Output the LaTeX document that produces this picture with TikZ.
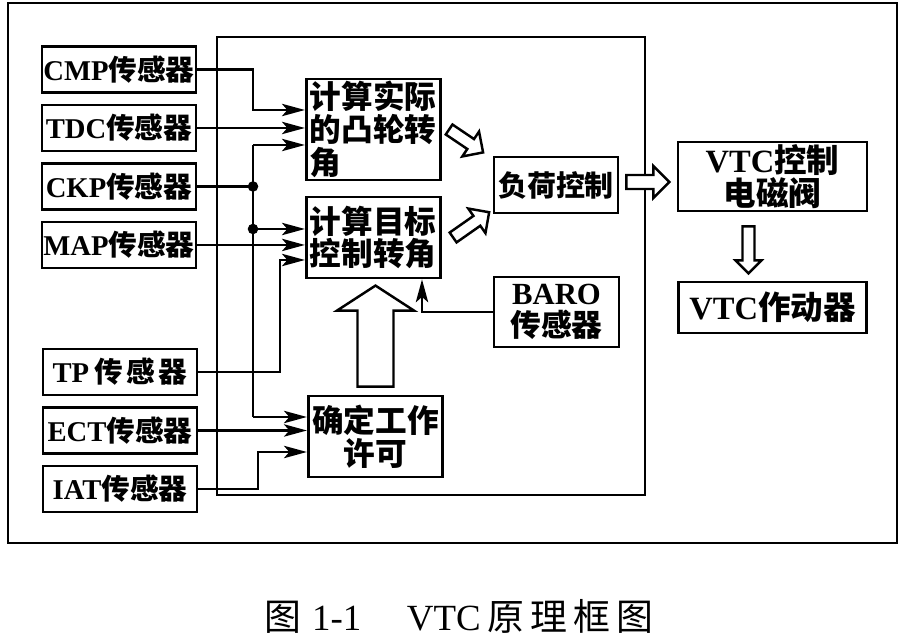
\documentclass[tikz,border=0pt]{standalone}
\usepackage{fontspec}
\setmainfont{Liberation Serif}
\newfontfamily\zhfont{Noto Sans CJK SC}
\newcommand\zh[1]{{\zhfont #1}}
\usetikzlibrary{arrows.meta,positioning,calc}

\tikzset{pics/hollow/.style args={#1/#2/#3/#4}{code={
    \draw[hollow] (0,-#2/2) -- (#1-#4,-#2/2) -- (#1-#4,-#3/2) -- (#1,0)
        -- (#1-#4,#3/2) -- (#1-#4,#2/2) -- (0,#2/2) -- cycle;}}}

\begin{document}
\begin{tikzpicture}[x=0.02cm,y=-0.02cm,node distance=1.17cm,on grid,
    sensor/.style={draw,line width=1.6pt,minimum width=3.08cm,minimum height=0.92cm,
        inner sep=0.5pt,font=\bfseries\fontsize{16.3}{17}\selectfont},
    unit/.style={draw,line width=1.6pt,inner xsep=2pt,inner ysep=0.5pt,
        font=\zhfont\bfseries\fontsize{18}{18.6}\selectfont},
    sig/.style={line width=1.5pt,-{Stealth[length=13pt,width=7pt,inset=3pt]}},
    wire/.style={line width=1.5pt},
    dot/.style={circle,fill,inner sep=0pt,minimum size=6pt},
    hollow/.style={line width=1.4pt,fill=white,line join=miter}]

\useasboundingbox (0,0) rectangle (900,638);

% frames
\draw[line width=1.3pt] (8,3) rectangle (897,543);
\draw[line width=1.1pt] (217,37) rectangle (645,495);

% sensors
\node[sensor] (cmp) at (119,69.5) {CMP\zh{传感器}};
\node[sensor] (tdc) [below=of cmp] {TDC\zh{传感器}};
\node[sensor] (ckp) [below=of tdc] {CKP\zh{传感器}};
\node[sensor] (map) [below=of ckp] {MAP\zh{传感器}};
\node[sensor] (tp) at (120,372) {TP\hspace{3pt}\zh{传\hspace{2pt}感\hspace{2pt}器}};
\node[sensor] (ect) [below=of tp] {ECT\zh{传感器}};
\node[sensor] (iat) [below=of ect] {IAT\zh{传感器}};

% ECU blocks
\node[unit,minimum height=2.02cm,text width=72.5pt,align=left] (act) at (373.5,129.5)
    {计算实际\\的凸轮转\\角};
\node[unit,minimum height=1.62cm,text width=72.5pt,align=left] (tgt) [below=2.16cm of act]
    {计算目标\\控制转角};
\node[unit,minimum height=1.62cm,text width=72.5pt,align=center] (pmt) at (375.5,436.5)
    {确定工作\\许可};
\node[unit,minimum width=2.48cm,minimum height=1.12cm,
    font=\zhfont\bfseries\fontsize{16.5}{17}\selectfont] (load) at (556,185) {负荷控制};
\node[unit,minimum width=2.5cm,minimum height=1.4cm,align=center,
    font=\zhfont\bfseries\fontsize{17.5}{18}\selectfont] (baro) at (556.5,312)
    {{\rmfamily BARO}\\传感器};
\node[unit,minimum width=3.78cm,minimum height=1.38cm,align=center,
    font=\zhfont\bfseries\fontsize{18.5}{19}\selectfont] (valve) at (772.5,176.5)
    {{\rmfamily VTC}控制\\电磁阀};
\node[unit,minimum width=3.76cm,minimum height=1.02cm,
    font=\zhfont\bfseries\fontsize{18.5}{19}\selectfont] (drive) [below=2.62cm of valve]
    {{\rmfamily VTC}作动器};

% bends
\coordinate (c1) at (253,110);
\coordinate (b1) at (253,145);
\coordinate (b2) at (253,229);
\coordinate (b3) at (253,417);
\coordinate (t1) at (280,260);
\coordinate (i1) at (258,452);
\coordinate (r1) at (422,312);

% signals
\draw[sig] (cmp.east) -| (c1) -- (c1 -| act.west);
\draw[sig] (tdc.east) -- (tdc.east -| act.west);
\draw[sig] (b1) -- (b1 -| act.west);
\draw[wire] (b1) -- (b3);
\draw[wire] (ckp.east) -- (ckp.east -| b1) node[dot] {};
\draw[sig] (b2) node[dot] {} -- (b2 -| tgt.west);
\draw[sig] (map.east) -- (map.east -| tgt.west);
\draw[sig] (tp.east) -| (t1) -- (t1 -| tgt.west);
\draw[sig] (b3) -- (b3 -| pmt.west);
\draw[sig] (ect.east) -- (ect.east -| pmt.west);
\draw[sig] (iat.east) -| (i1) -- (i1 -| pmt.west);
\draw[sig] (baro.west) -| (r1 |- tgt.south);

% block arrows
\pic[rotate=-34] at ($(act.east)+(7,0)$) {hollow=41/12/30/15};
\pic[rotate=35] at ($(tgt.east)+(11,0)$) {hollow=44/12/30/15};
\pic at ($(load.east)+(7,-3)$) {hollow=43/14/32/16};
\pic[rotate=-90] at ($(valve.south)+(-24,14)$) {hollow=47/12/26/13};
\pic[rotate=90] at ($(pmt.north)+(0,-8)$) {hollow=101/36/77/25};

% caption
\node (cap) at (459,616) {\fontsize{21}{23}\selectfont%
    \zh{图}\hspace{6pt}1-1\hspace{26pt}VTC\hspace{4pt}%
    \zh{原\hspace{3.4pt}理\hspace{3.4pt}框\hspace{3.4pt}图}};
\end{tikzpicture}
\end{document}
